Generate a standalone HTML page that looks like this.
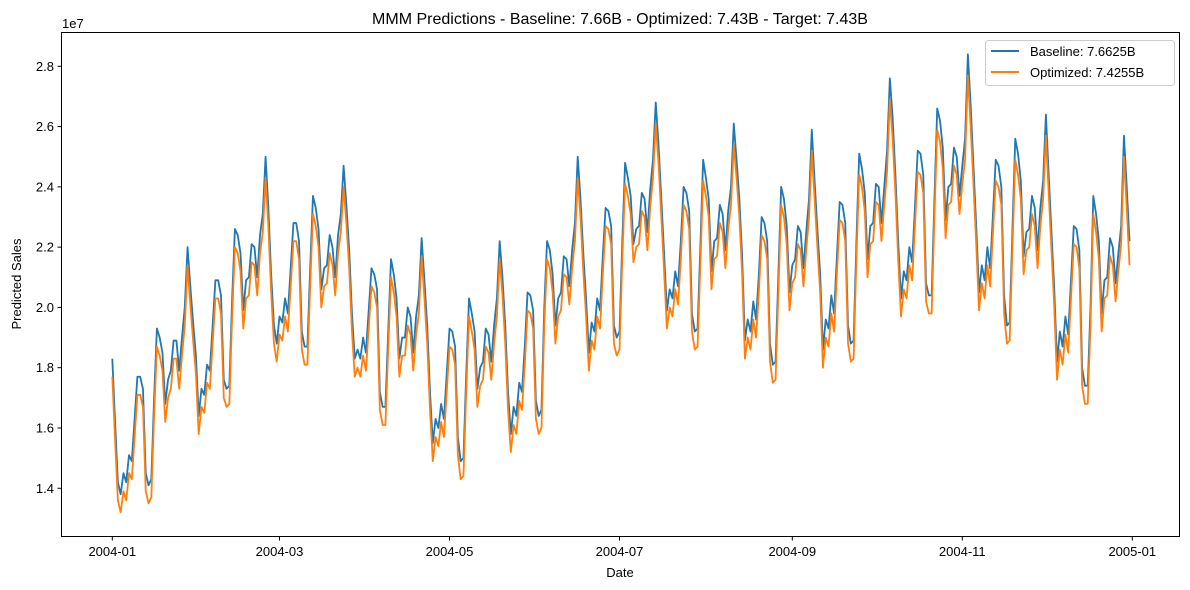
<!DOCTYPE html>
<html><head><meta charset="utf-8">
<style>
body{margin:0;background:#fff;}
svg{display:block;font-family:"Liberation Sans","DejaVu Sans",sans-serif;}
</style></head>
<body>
<svg id="chart" width="1190" height="590" viewBox="0 0 1190 590" xmlns="http://www.w3.org/2000/svg">
<rect width="1190" height="590" fill="#fff"/>
<text x="620" y="24" text-anchor="middle" font-size="16" fill="#000">MMM Predictions - Baseline: 7.66B - Optimized: 7.43B - Target: 7.43B</text>
<text x="62" y="28" font-size="13" fill="#000">1e7</text>
<text x="21" y="284" font-size="13" text-anchor="middle" transform="rotate(-90 21 284)" fill="#000">Predicted Sales</text>
<text x="620" y="577" font-size="13" text-anchor="middle" fill="#000">Date</text>
<g id="ticks"></g>
<g id="series"></g>
<rect x="61.5" y="32.5" width="1118" height="504" fill="none" stroke="#000" stroke-width="1"/>
<g>
<rect x="985.5" y="40.5" width="189" height="45" rx="3" fill="#fff" fill-opacity="0.8" stroke="#ccc"/>
<line x1="991" y1="51" x2="1019" y2="51" stroke="#1f77b4" stroke-width="2"/>
<text x="1030" y="56" font-size="13" fill="#000">Baseline: 7.6625B</text>
<line x1="991" y1="72" x2="1019" y2="72" stroke="#ff7f0e" stroke-width="2"/>
<text x="1030" y="77" font-size="13" fill="#000">Optimized: 7.4255B</text>
</g>
</svg>
<script>
const yTicks=[1.4,1.6,1.8,2.0,2.2,2.4,2.6,2.8];
const xTickLabels=["2004-01","2004-03","2004-05","2004-07","2004-09","2004-11","2005-01"];
const xTickDays=[0,60,121,182,244,305,366];
const baseline=[1.83,1.62,1.42,1.38,1.45,1.42,1.51,1.49,1.63,1.77,1.77,1.73,1.45,1.41,1.43,1.70,1.93,1.90,1.85,1.68,1.76,1.79,1.89,1.89,1.79,1.90,2.00,2.20,2.07,1.95,1.84,1.64,1.73,1.71,1.81,1.79,1.94,2.09,2.09,2.04,1.76,1.73,1.74,2.03,2.26,2.24,2.18,1.99,2.09,2.10,2.21,2.20,2.10,2.24,2.31,2.50,2.33,2.11,1.94,1.88,1.97,1.95,2.03,1.98,2.13,2.28,2.28,2.22,1.92,1.87,1.87,2.13,2.37,2.33,2.26,2.06,2.13,2.14,2.24,2.20,2.10,2.24,2.31,2.47,2.34,2.19,1.98,1.83,1.86,1.83,1.90,1.85,
1.99,2.13,2.11,2.06,1.72,1.67,1.67,1.92,2.16,2.11,2.03,1.83,1.90,1.90,2.00,1.97,1.85,1.97,2.04,2.23,2.09,1.94,1.72,1.55,1.63,1.60,1.68,1.63,1.78,1.93,1.92,1.87,1.57,1.49,1.50,1.78,2.03,1.98,1.92,1.73,1.80,1.82,1.93,1.91,1.82,1.94,2.03,2.22,2.10,1.94,1.72,1.58,1.67,1.64,1.75,1.72,1.87,2.05,2.04,1.99,1.69,1.64,1.66,2.00,2.22,2.19,2.11,1.94,2.03,2.05,2.17,2.16,2.07,2.19,2.28,2.50,2.36,2.18,2.03,1.85,1.95,1.92,2.03,1.99,2.17,2.33,2.32,2.27,1.94,1.90,1.92,2.22,2.48,2.43,
2.37,2.21,2.26,2.27,2.38,2.36,2.25,2.39,2.49,2.68,2.54,2.36,2.18,1.99,2.06,2.03,2.12,2.07,2.22,2.40,2.38,2.32,1.98,1.92,1.93,2.20,2.49,2.43,2.36,2.12,2.22,2.23,2.34,2.31,2.19,2.32,2.40,2.61,2.49,2.36,2.17,1.89,1.96,1.92,2.02,1.96,2.11,2.30,2.28,2.22,1.88,1.81,1.82,2.11,2.40,2.36,2.27,2.05,2.14,2.16,2.27,2.25,2.13,2.25,2.36,2.59,2.42,2.26,2.11,1.86,1.96,1.93,2.04,1.98,2.17,2.35,2.34,2.28,1.94,1.88,1.89,2.22,2.51,2.46,2.38,2.16,2.27,2.28,2.41,2.40,2.28,2.40,2.52,2.76,
2.63,2.44,2.22,2.03,2.12,2.09,2.20,2.15,2.33,2.52,2.51,2.44,2.08,2.04,2.04,2.36,2.66,2.62,2.53,2.29,2.40,2.41,2.53,2.50,2.37,2.47,2.56,2.84,2.67,2.47,2.27,2.05,2.14,2.09,2.20,2.13,2.31,2.49,2.47,2.40,2.04,1.94,1.95,2.26,2.56,2.51,2.42,2.17,2.25,2.26,2.37,2.33,2.19,2.33,2.42,2.64,2.44,2.25,2.06,1.82,1.92,1.87,1.97,1.91,2.09,2.27,2.26,2.19,1.80,1.74,1.74,2.00,2.37,2.31,2.22,1.98,2.09,2.10,2.23,2.20,2.08,2.18,2.27,2.57,2.40,2.22];
const optimized=[1.77,1.56,1.36,1.32,1.39,1.36,1.45,1.43,1.57,1.71,1.71,1.67,1.39,1.35,1.37,1.64,1.87,1.84,1.79,1.62,1.70,1.73,1.83,1.83,1.73,1.84,1.94,2.14,2.01,1.89,1.78,1.58,1.67,1.65,1.75,1.73,1.88,2.03,2.03,1.98,1.70,1.67,1.68,1.97,2.20,2.18,2.12,1.93,2.03,2.04,2.15,2.14,2.04,2.18,2.25,2.43,2.27,2.05,1.88,1.82,1.91,1.89,1.97,1.92,2.07,2.22,2.22,2.16,1.86,1.81,1.81,2.07,2.31,2.27,2.20,2.00,2.07,2.08,2.18,2.14,2.04,2.18,2.25,2.40,2.28,2.13,1.92,1.77,1.80,1.77,1.84,1.79,
1.93,2.07,2.05,2.00,1.66,1.61,1.61,1.86,2.10,2.05,1.97,1.77,1.84,1.84,1.94,1.91,1.79,1.91,1.98,2.17,2.03,1.88,1.66,1.49,1.57,1.54,1.62,1.57,1.72,1.87,1.86,1.81,1.51,1.43,1.44,1.72,1.97,1.92,1.86,1.67,1.74,1.76,1.87,1.85,1.76,1.88,1.97,2.16,2.04,1.88,1.66,1.52,1.61,1.58,1.69,1.66,1.81,1.99,1.98,1.93,1.63,1.58,1.60,1.94,2.16,2.13,2.05,1.88,1.97,1.99,2.11,2.10,2.01,2.13,2.22,2.43,2.30,2.12,1.97,1.79,1.89,1.86,1.97,1.93,2.11,2.27,2.26,2.21,1.88,1.84,1.86,2.16,2.41,2.37,
2.31,2.15,2.20,2.21,2.32,2.30,2.19,2.33,2.43,2.61,2.48,2.30,2.12,1.93,2.00,1.97,2.06,2.01,2.16,2.34,2.32,2.26,1.92,1.86,1.87,2.14,2.42,2.37,2.30,2.06,2.16,2.17,2.28,2.25,2.13,2.26,2.34,2.54,2.43,2.30,2.11,1.83,1.90,1.86,1.96,1.90,2.05,2.24,2.22,2.16,1.82,1.75,1.76,2.05,2.34,2.30,2.21,1.99,2.08,2.10,2.21,2.19,2.07,2.19,2.30,2.52,2.36,2.20,2.05,1.80,1.90,1.87,1.98,1.92,2.11,2.29,2.28,2.22,1.88,1.82,1.83,2.16,2.44,2.40,2.32,2.10,2.21,2.22,2.35,2.34,2.22,2.34,2.45,2.69,
2.56,2.38,2.16,1.97,2.06,2.03,2.14,2.09,2.27,2.45,2.44,2.38,2.02,1.98,1.98,2.30,2.59,2.55,2.46,2.23,2.34,2.35,2.47,2.44,2.31,2.41,2.49,2.77,2.60,2.41,2.21,1.99,2.08,2.03,2.14,2.07,2.25,2.42,2.40,2.34,1.98,1.88,1.89,2.20,2.49,2.44,2.36,2.11,2.19,2.20,2.31,2.27,2.13,2.27,2.36,2.57,2.38,2.19,2.00,1.76,1.86,1.81,1.91,1.85,2.03,2.21,2.20,2.13,1.74,1.68,1.68,1.94,2.31,2.25,2.16,1.92,2.03,2.04,2.17,2.14,2.02,2.12,2.21,2.50,2.33,2.14];

const NS="http://www.w3.org/2000/svg";
function xScale(d){return 112.3+d*(1020/366);}
function yScale(v){return 66.3+(2.8-v)*301.4;}
const tickG=document.getElementById('ticks');
yTicks.forEach(v=>{
  const y=yScale(v);
  const l=document.createElementNS(NS,'line');
  
  
  l.setAttribute('x1',57.5);l.setAttribute('x2',61.5);l.setAttribute('y1',y);l.setAttribute('y2',y);
  l.setAttribute('stroke','#000');tickG.appendChild(l);
  const t=document.createElementNS(NS,'text');
  
  
  t.setAttribute('x',54);t.setAttribute('y',y+4.5);t.setAttribute('text-anchor','end');t.setAttribute('font-size','13');
  t.textContent=v.toFixed(1);tickG.appendChild(t);
});
xTickDays.forEach((d,i)=>{
  const x=xScale(d);
  const l=document.createElementNS(NS,'line');
  
  
  l.setAttribute('x1',x);l.setAttribute('x2',x);l.setAttribute('y1',536.5);l.setAttribute('y2',540.5);
  l.setAttribute('stroke','#000');tickG.appendChild(l);
  const t=document.createElementNS(NS,'text');
  
  
  t.setAttribute('x',x);t.setAttribute('y',556);t.setAttribute('text-anchor','middle');t.setAttribute('font-size','13');
  t.textContent=xTickLabels[i];tickG.appendChild(t);
});
const sg=document.getElementById('series');
function drawLine(arr,color,name){
  const p=document.createElementNS(NS,'path');
  
  
  p.setAttribute('d',arr.map((v,i)=>(i?'L':'M')+xScale(i).toFixed(2)+','+yScale(v).toFixed(2)).join(''));
  p.setAttribute('fill','none');p.setAttribute('stroke',color);p.setAttribute('stroke-width','1.8');
  p.setAttribute('stroke-linejoin','round');
  sg.appendChild(p);
}
drawLine(baseline,'#1f77b4','baseline-line');
drawLine(optimized,'#ff7f0e','optimized-line');
</script>
</body></html>
